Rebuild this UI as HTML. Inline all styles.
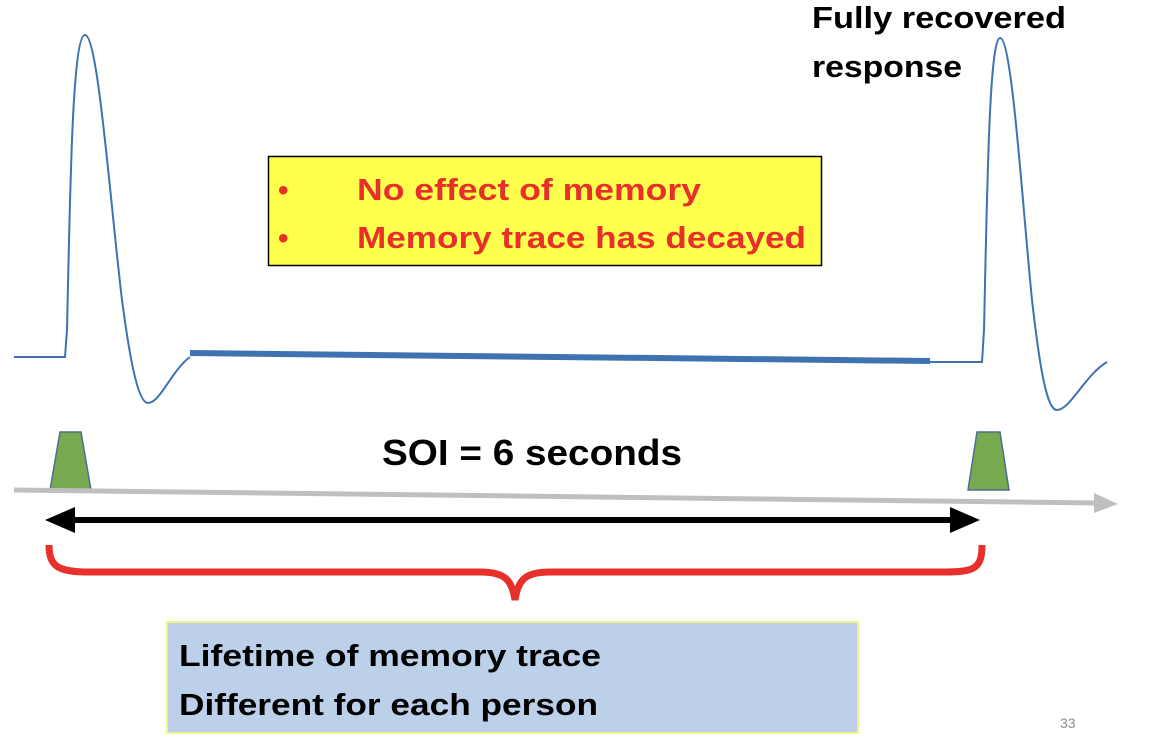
<!DOCTYPE html>
<html><head><meta charset="utf-8"><style>
html,body{margin:0;padding:0;background:#fff;}
svg{display:block;}
text{font-family:"Liberation Sans",sans-serif;font-weight:bold;}
</style></head><body>
<svg width="1150" height="743" viewBox="0 0 1150 743" xmlns="http://www.w3.org/2000/svg">
<!-- left waveform -->
<path d="M14,357 L65,357 L67,330 C70,200 72,35 85,35 C98,35 110,200 122,300 C130,360 138,403 148,403 C160,403 172,370 190,357" fill="none" stroke="#3e72b0" stroke-width="2"/>
<line x1="190" y1="353" x2="930" y2="361" stroke="#3e72b0" stroke-width="6"/>
<!-- right waveform -->
<path d="M930,362 L982,362 L984,330 C987,200 989,38 1000,38 C1012,38 1022,200 1032,300 C1040,370 1047,410 1057,410 C1070,410 1085,375 1107,362" fill="none" stroke="#3e72b0" stroke-width="2"/>
<!-- stimuli -->
<polygon points="60,432 81,432 91,490 50,490" fill="#77a94f" stroke="#4e6c94" stroke-width="1.5"/>
<polygon points="977,432 1000,432 1009,490 968,490" fill="#77a94f" stroke="#4e6c94" stroke-width="1.5"/>
<!-- grey time arrow -->
<line x1="14" y1="490" x2="1098" y2="503" stroke="#bfbfbf" stroke-width="5"/>
<polygon points="1094,493 1118,504 1094,513" fill="#bfbfbf"/>
<!-- black double arrow -->
<line x1="70" y1="520" x2="955" y2="520" stroke="#000" stroke-width="6"/>
<polygon points="45,520 75,507 75,533" fill="#000"/>
<polygon points="980,520 950,507 950,533" fill="#000"/>
<!-- red brace -->
<path d="M49,545 C49,568 60,572 90,572 L480,572 C505,572 512,580 515,600 C518,580 525,572 550,572 L945,572 C975,572 982,568 982,545" fill="none" stroke="#e8302a" stroke-width="7"/>
<!-- yellow box -->
<rect x="268.5" y="156.5" width="553" height="109" fill="#ffff4d" stroke="#000" stroke-width="1.5"/>
<text x="278" y="200" font-size="30" fill="#e8302a">•</text>
<text x="278" y="248" font-size="30" fill="#e8302a">•</text>
<text x="357" y="200" font-size="31" fill="#e8302a" textLength="344" lengthAdjust="spacingAndGlyphs">No effect of memory</text>
<text x="357" y="248" font-size="31" fill="#e8302a" textLength="449" lengthAdjust="spacingAndGlyphs">Memory trace has decayed</text>
<!-- SOI -->
<text x="382" y="465" font-size="36" fill="#000" textLength="300" lengthAdjust="spacingAndGlyphs">SOI = 6 seconds</text>
<!-- fully recovered -->
<text x="812" y="28" font-size="31" fill="#000" textLength="254" lengthAdjust="spacingAndGlyphs">Fully recovered</text>
<text x="812" y="77" font-size="31" fill="#000" textLength="150" lengthAdjust="spacingAndGlyphs">response</text>
<!-- blue box -->
<rect x="167" y="622" width="691" height="111" fill="#bcd0ea" stroke="#f2f28a" stroke-width="2"/>
<text x="179" y="666" font-size="31" fill="#000" textLength="422" lengthAdjust="spacingAndGlyphs">Lifetime of memory trace</text>
<text x="179" y="715" font-size="31" fill="#000" textLength="419" lengthAdjust="spacingAndGlyphs">Different for each person</text>
<text x="1060" y="728" font-size="14" fill="#8c8c8c" style="font-weight:normal">33</text>
</svg>
</body></html>
